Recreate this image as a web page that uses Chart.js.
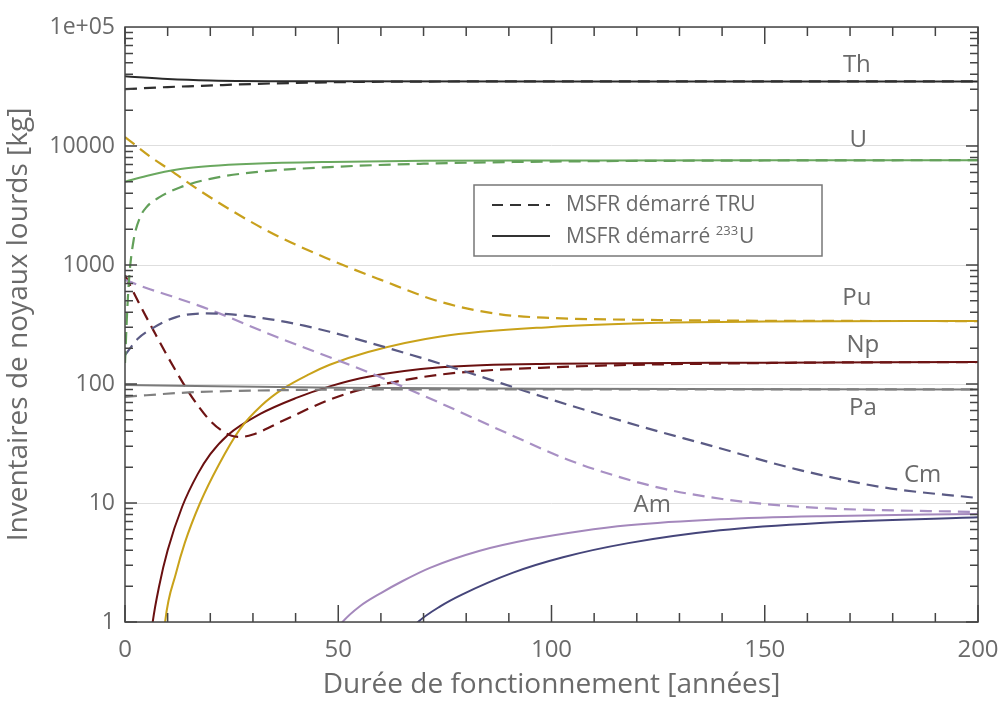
<!DOCTYPE html>
<html>
<head>
<meta charset="utf-8">
<script src="https://cdn.jsdelivr.net/npm/chart.js@4.4.1/dist/chart.umd.min.js"></script>
<style>
  body { margin: 0; background: #fff; }
  #wrap { width: 1005px; height: 706px; }
</style>
</head>
<body>
<div id="wrap"><canvas id="chart" width="1005" height="706"></canvas></div>
<script>
// values: years and inventories [kg]
const thU233_t = [0, 10, 20, 40, 100, 200];
const thU233   = [38500, 36500, 35500, 35000, 34900, 34800];
const thTRU_t  = [0, 10, 18, 30, 48, 70, 100, 200];
const thTRU    = [30000, 31300, 32000, 33200, 34300, 34800, 34900, 34900];

const uU233_t = [0, 5, 13, 20, 30, 48, 70, 100, 150, 200];
const uU233   = [5000, 5600, 6400, 6800, 7100, 7350, 7500, 7550, 7600, 7600];
const uTRU_t  = [0, 0.5, 1, 2, 3.5, 5, 8, 13, 20, 30, 48, 70, 100, 150, 200];
const uTRU    = [150, 400, 800, 1600, 2500, 3050, 3700, 4500, 5300, 6000, 6650, 7100, 7400, 7550, 7600];

const puU233_t = [8.9, 9.4, 12, 14, 17.6, 22, 27, 32, 37, 43, 48, 57, 74, 100, 125, 150, 200];
const puU233   = [0.6, 1, 2.6, 4.6, 10, 21, 42, 66, 91, 120, 145, 186, 251, 302, 327, 335, 339];
const puTRU_t  = [0, 6, 10.5, 17.6, 33, 47, 60, 74, 88, 100, 125, 150, 200];
const puTRU    = [11900, 8100, 6300, 4200, 1970, 1150, 750, 490, 385, 359, 345, 340, 338];

const npU233_t = [5.8, 6.5, 8, 10, 13.4, 17, 20, 24, 31.7, 40, 48, 57, 74, 100, 150, 200];
const npU233   = [0.6, 1, 2, 4, 9.3, 17.4, 25.7, 37, 56, 76, 95.5, 115, 138, 148, 151, 153];
const npTRU_t  = [0, 3, 6.6, 10, 14.8, 17.5, 20, 22.5, 25, 27, 30, 37, 48, 57, 74, 100, 150, 200];
const npTRU    = [820, 500, 285, 170, 87, 63, 49, 41, 36.7, 35.9, 37.6, 49, 74, 93, 120, 138, 150, 153];

const paU233_t = [0, 50, 100, 200];
const paU233   = [98, 93, 91, 90];
const paTRU_t  = [0, 15, 30, 60, 200];
const paTRU    = [78, 85, 88, 90, 90];

const cmU233_t = [62, 68.7, 74, 79, 91, 102.7, 118, 139.5, 163, 200];
const cmU233   = [0.54, 1, 1.36, 1.7, 2.6, 3.5, 4.6, 5.9, 6.8, 7.6];
const cmTRU_t  = [0, 3, 6.6, 12, 19, 25, 30, 35.6, 42, 48, 57, 74, 100, 111, 125, 135, 158, 178, 200];
const cmTRU    = [175, 240, 296, 365, 392, 385, 367, 343, 309, 275, 224, 148, 74, 56, 40, 32, 19, 13.5, 11];

const amU233_t = [45, 51, 55, 60, 65, 71.5, 83, 95, 106.7, 118, 139.5, 163, 200];
const amU233   = [0.5, 1, 1.35, 1.75, 2.2, 2.85, 3.95, 4.95, 5.8, 6.5, 7.3, 7.75, 8.1];
const amTRU_t  = [0, 5, 10, 20, 35.6, 48, 57, 74, 90, 104, 116, 127, 140, 150, 165, 200];
const amTRU    = [750, 640, 560, 420, 248, 168, 126, 69, 38, 23, 16.5, 13, 10.8, 9.8, 9.0, 8.4];

const yTicks = [1, 10, 100, 1000, 10000, 100000];

// element names written on the plot: [name, year, kg]
const names = [
  ['Th', 171.6, 48000],
  ['U', 171.9, 11200],
  ['Pu', 171.6, 527],
  ['Np', 173, 212],
  ['Pa', 173, 63],
  ['Cm', 187, 17.2],
  ['Am', 123.6, 9.6]
];

const FONT = "'Open Sans', 'DejaVu Sans', sans-serif";
const GREY = '#6a6a6a';

function series(t, v, color, dashed) {
  return {
    data: t.map((x, i) => ({ x: x, y: v[i] })),
    borderColor: color,
    borderWidth: dashed ? 2.2 : 2,
    borderDash: dashed ? [12, 7] : [],
    pointRadius: 0,
    cubicInterpolationMode: 'monotone',
    fill: false
  };
}

const datasets = [
  series(paTRU_t, paTRU, '#808080', true),
  series(paU233_t, paU233, '#7a7a7a', false),
  series(thTRU_t, thTRU, '#2e2e2e', true),
  series(thU233_t, thU233, '#2a2a2a', false),
  series(uTRU_t, uTRU, '#63a05a', true),
  series(uU233_t, uU233, '#6aa85f', false),
  series(puTRU_t, puTRU, '#c8a01c', true),
  series(cmTRU_t, cmTRU, '#5a5a84', true),
  series(amTRU_t, amTRU, '#a890c4', true),
  series(npTRU_t, npTRU, '#6e1414', true),
  series(puU233_t, puU233, '#c9a21a', false),
  series(npU233_t, npU233, '#6a1010', false),
  series(amU233_t, amU233, '#a488bc', false),
  series(cmU233_t, cmU233, '#45457a', false)
];

// frame, inward ticks, element names and the little legend box
const decor = {
  id: 'decor',
  afterDatasetsDraw(chart) {
    const { ctx, chartArea: a, scales: { x, y } } = chart;
    ctx.save();
    ctx.strokeStyle = '#444';
    ctx.lineWidth = 1.5;
    ctx.strokeRect(a.left, a.top, a.right - a.left, a.bottom - a.top);

    ctx.beginPath();
    for (let t = 0; t <= 200; t += 10) {
      const px = x.getPixelForValue(t);
      const len = t % 50 === 0 ? 17 : 9;
      ctx.moveTo(px, a.bottom); ctx.lineTo(px, a.bottom - len);
      ctx.moveTo(px, a.top); ctx.lineTo(px, a.top + len);
    }
    for (let d = 0; d < 5; d++) {
      for (let m = 1; m <= 9; m++) {
        const py = y.getPixelForValue(m * Math.pow(10, d));
        const len = m === 1 ? 12 : 8;
        ctx.moveTo(a.left, py); ctx.lineTo(a.left + len, py);
        ctx.moveTo(a.right, py); ctx.lineTo(a.right - len, py);
      }
    }
    ctx.stroke();

    ctx.fillStyle = GREY;
    ctx.font = '24px ' + FONT;
    ctx.textAlign = 'center';
    ctx.textBaseline = 'middle';
    names.forEach(([n, t, v]) => {
      ctx.fillText(n, x.getPixelForValue(t), y.getPixelForValue(v));
    });

    // legend
    const bx = 474, by = 185, bw = 348, bh = 71;
    ctx.fillStyle = '#fff';
    ctx.fillRect(bx, by, bw, bh);
    ctx.strokeStyle = '#777';
    ctx.lineWidth = 1.5;
    ctx.strokeRect(bx, by, bw, bh);
    ctx.strokeStyle = '#333';
    ctx.lineWidth = 2;
    ctx.setLineDash([11, 7]);
    ctx.beginPath(); ctx.moveTo(492, 205); ctx.lineTo(550, 205); ctx.stroke();
    ctx.setLineDash([]);
    ctx.beginPath(); ctx.moveTo(492, 236); ctx.lineTo(550, 236); ctx.stroke();
    ctx.fillStyle = GREY;
    ctx.font = '21px ' + FONT;
    ctx.textAlign = 'left';
    ctx.fillText('MSFR démarré TRU', 566, 205);
    const pre = 'MSFR démarré ';
    ctx.fillText(pre, 566, 237);
    const w = ctx.measureText(pre).width;
    ctx.font = '13px ' + FONT;
    ctx.fillText('233', 566 + w, 231);
    const w2 = ctx.measureText('233').width;
    ctx.font = '21px ' + FONT;
    ctx.fillText('U', 566 + w + w2 + 1, 237);
    ctx.restore();
  }
};

new Chart(document.getElementById('chart'), {
  type: 'line',
  data: { datasets: datasets },
  options: {
    responsive: false,
    animation: false,
    layout: { padding: { top: 27, right: 27, left: 0, bottom: 0 } },
    plugins: { legend: { display: false }, tooltip: { enabled: false } },
    scales: {
      x: {
        type: 'linear',
        min: 0,
        max: 200,
        grid: { display: false },
        border: { display: false },
        ticks: {
          stepSize: 50,
          padding: 6,
          color: GREY,
          font: { family: FONT, size: 24 }
        },
        title: {
          display: true,
          text: 'Durée de fonctionnement [années]',
          color: GREY,
          font: { family: FONT, size: 28 },
          padding: { top: 0, bottom: 4 }
        },
        afterFit: s => { s.height = 84; }
      },
      y: {
        type: 'logarithmic',
        min: 1,
        max: 100000,
        afterBuildTicks: s => { s.ticks = yTicks.map(v => ({ value: v })); },
        grid: { color: '#dedede', lineWidth: 1, drawTicks: false },
        border: { display: false },
        ticks: {
          padding: 10,
          color: GREY,
          font: { family: FONT, size: 23 },
          callback: v => v === 100000 ? '1e+05' : String(v)
        },
        title: {
          display: true,
          text: 'Inventaires de noyaux lourds [kg]',
          color: GREY,
          font: { family: FONT, size: 28 },
          padding: { top: 2, bottom: 0 }
        },
        afterFit: s => { s.width = 125; }
      }
    }
  },
  plugins: [decor]
});
</script>
</body>
</html>
